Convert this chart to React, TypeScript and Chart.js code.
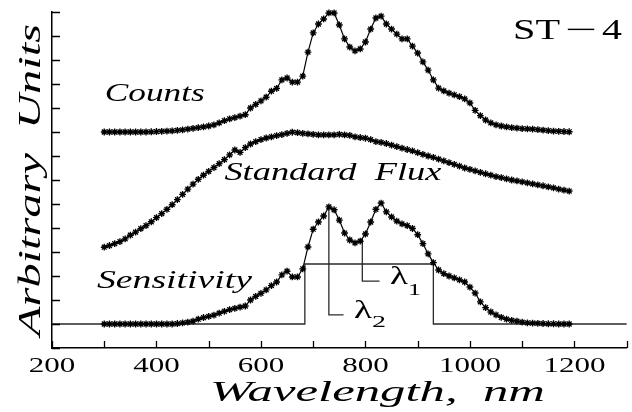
import React, { useEffect, useRef } from "react";
import { Chart, registerables } from "chart.js";
Chart.register(...registerables);

const wavelengths = [
  300, 310, 320, 330, 340, 350, 360, 370, 380, 390,
  400, 410, 420, 430, 440, 450, 460, 470, 480, 490,
  500, 510, 520, 530, 540, 550, 560, 570, 580, 590,
  600, 610, 620, 630, 640, 650, 660, 670, 680, 690,
  700, 710, 720, 730, 740, 750, 760, 770, 780, 790,
  800, 810, 820, 830, 840, 850, 860, 870, 880, 890,
  900, 910, 920, 930, 940, 950, 960, 970, 980, 990,
  1000, 1010, 1020, 1030, 1040, 1050, 1060, 1070, 1080, 1090,
  1100, 1110, 1120, 1130, 1140, 1150, 1160, 1170, 1180, 1190,
];

const counts = [
  9.0, 9.0, 9.0, 9.0, 9.0, 9.0, 9.0, 9.0, 9.0, 9.01,
  9.02, 9.03, 9.04, 9.05, 9.07, 9.09, 9.12, 9.15, 9.18, 9.21,
  9.25, 9.3, 9.38, 9.47, 9.55, 9.6, 9.66, 9.72, 10.0, 10.15,
  10.3, 10.45, 10.7, 10.82, 11.17, 11.25, 11.08, 11.08, 11.33, 12.33,
  13.13, 13.5, 13.71, 13.96, 13.96, 13.46, 12.88, 12.54, 12.38, 12.46,
  12.75, 13.29, 13.75, 13.83, 13.5, 13.29, 13.08, 12.88, 12.88, 12.58,
  12.29, 11.92, 11.58, 11.17, 10.83, 10.71, 10.62, 10.55, 10.47, 10.38,
  10.21, 9.9, 9.68, 9.5, 9.38, 9.3, 9.25, 9.21, 9.18, 9.16,
  9.14, 9.13, 9.12, 9.1, 9.08, 9.06, 9.04, 9.03, 9.02, 9.01,
];

const standardFlux = [
  4.2, 4.27, 4.35, 4.43, 4.55, 4.7, 4.83, 4.97, 5.1, 5.26,
  5.43, 5.6, 5.78, 5.97, 6.18, 6.4, 6.62, 6.83, 7.03, 7.2,
  7.36, 7.52, 7.68, 7.85, 8.05, 8.25, 8.15, 8.35, 8.5, 8.6,
  8.68, 8.75, 8.8, 8.85, 8.89, 8.94, 8.99, 8.97, 8.94, 8.92,
  8.9, 8.88, 8.88, 8.88, 8.88, 8.9, 8.88, 8.86, 8.8, 8.77,
  8.74, 8.68, 8.6, 8.57, 8.52, 8.45, 8.39, 8.33, 8.27, 8.21,
  8.14, 8.07, 8.0, 7.94, 7.87, 7.8, 7.72, 7.65, 7.58, 7.5,
  7.44, 7.38, 7.32, 7.26, 7.2, 7.14, 7.1, 7.05, 7.0, 6.96,
  6.92, 6.88, 6.84, 6.8, 6.76, 6.71, 6.67, 6.62, 6.58, 6.54,
];

const sensitivity = [
  1.0, 1.0, 1.0, 1.0, 1.0, 1.0, 1.0, 1.0, 1.0, 1.0,
  1.0, 1.0, 1.0, 1.0, 1.02, 1.05, 1.08, 1.12, 1.2, 1.27,
  1.32, 1.37, 1.45, 1.53, 1.6, 1.65, 1.7, 1.75, 2.0, 2.15,
  2.28, 2.42, 2.6, 2.75, 3.05, 3.2, 2.96, 2.96, 3.3, 4.21,
  4.95, 5.25, 5.5, 5.88, 5.76, 5.33, 4.79, 4.5, 4.38, 4.45,
  4.75, 5.25, 5.78, 6.04, 5.67, 5.46, 5.29, 5.17, 5.1, 4.98,
  4.72, 4.35, 3.92, 3.56, 3.25, 3.1, 3.0, 2.92, 2.84, 2.75,
  2.54, 2.29, 1.92, 1.68, 1.5, 1.38, 1.28, 1.2, 1.15, 1.12,
  1.08, 1.05, 1.04, 1.03, 1.02, 1.01, 1.01, 1.0, 1.0, 1.0,
];

// filter passband (step) and lambda markers
const filterX = [200, 684, 684, 930, 930, 1300];
const filterY = [1, 1, 3.5, 3.5, 1, 1];
const lambda2X = [730, 730, 758];
const lambda2Y = [5.88, 1.38, 1.38];
const lambda1X = [794, 794, 827];
const lambda1Y = [4.55, 2.79, 2.79];

const xTickValues = [200, 300, 400, 500, 600, 700, 800, 900, 1000, 1100, 1200, 1300];
const xTickLabels = ["200", "", "400", "", "600", "", "800", "", "1000", "", "1200", ""];
const yTickValues = [0, 1, 2, 3, 4, 5, 6, 7, 8, 9, 10, 11, 12, 13, 14];

const xTitle = "Wavelength,  nm";
const yTitle = "Arbitrary  Units";
const panelLabel = ["ST", "\u2212", "4"];
const curveLabels = ["Counts", "Standard  Flux", "Sensitivity"];

const pts = (xs: number[], ys: number[]) => xs.map((x, i) => ({ x, y: ys[i] }));

function fitText(ctx: CanvasRenderingContext2D, text: string, x: number, y: number, w: number, font: string) {
  ctx.save();
  ctx.font = font;
  ctx.textAlign = "left";
  ctx.textBaseline = "alphabetic";
  const m = ctx.measureText(text).width;
  ctx.translate(x, y);
  ctx.scale(w / m, 1);
  ctx.fillStyle = "#000";
  ctx.fillText(text, 0, 0);
  ctx.restore();
}

const decor = {
  id: "decor",
  afterDraw(chart: any) {
    const ctx: CanvasRenderingContext2D = chart.ctx;
    const { x, y } = chart.scales;
    const area = chart.chartArea;
    ctx.save();
    ctx.strokeStyle = "#000";
    ctx.lineWidth = 1.3;
    ctx.beginPath();
    for (const v of yTickValues) {
      const py = Math.round(y.getPixelForValue(v)) + 0.5;
      ctx.moveTo(area.left, py);
      ctx.lineTo(area.left + 8, py);
    }
    for (const v of xTickValues) {
      const px = Math.round(x.getPixelForValue(v)) + 0.5;
      ctx.moveTo(px, area.bottom);
      ctx.lineTo(px, area.bottom - 7);
    }
    ctx.stroke();

    // x tick labels
    xTickValues.forEach((v, i) => {
      const t = xTickLabels[i];
      if (!t) return;
      const w = t.length * 15.5;
      fitText(ctx, t, x.getPixelForValue(v) - w / 2, area.bottom + 24, w, "21px 'Liberation Serif'");
    });

    const ital = "italic 25px 'Liberation Serif'";
    fitText(ctx, curveLabels[0], x.getPixelForValue(301), y.getPixelForValue(10.29), 100, ital);
    fitText(ctx, curveLabels[1], x.getPixelForValue(530), y.getPixelForValue(7.0), 217, ital);
    fitText(ctx, curveLabels[2], x.getPixelForValue(286), y.getPixelForValue(2.5), 155, ital);

    // lambda labels
    const lx2 = x.getPixelForValue(778), ly2 = y.getPixelForValue(1.25);
    fitText(ctx, "\u03bb", lx2, ly2, 18, "25px 'Liberation Serif'");
    fitText(ctx, "2", lx2 + 18, ly2 + 9, 14, "17px 'Liberation Serif'");
    const lx1 = x.getPixelForValue(847), ly1 = y.getPixelForValue(2.67);
    fitText(ctx, "\u03bb", lx1, ly1, 18, "25px 'Liberation Serif'");
    fitText(ctx, "1", lx1 + 18, ly1 + 11, 13, "17px 'Liberation Serif'");

    // panel label
    fitText(ctx, panelLabel[0], 513, 39, 47, "29px 'Liberation Serif'");
    fitText(ctx, panelLabel[1], 565, 39, 32, "29px 'Liberation Serif'");
    fitText(ctx, panelLabel[2], 602, 39, 20, "29px 'Liberation Serif'");

    // axis titles
    fitText(ctx, xTitle, 210, 401, 335, "italic 30px 'Liberation Serif'");
    ctx.save();
    ctx.translate(40, 336);
    ctx.rotate(-Math.PI / 2);
    fitText(ctx, yTitle, 0, 0, 312, "italic 31px 'Liberation Serif'");
    ctx.restore();
    ctx.restore();
  },
};

export default function App() {
  const ref = useRef<HTMLCanvasElement | null>(null);
  useEffect(() => {
    if (!ref.current) return;
    const starSet = (data: number[], label: string) => ({
      label,
      data: pts(wavelengths, data),
      borderColor: "#000",
      borderWidth: 1.2,
      pointStyle: "star",
      pointRadius: 3.4,
      pointBorderWidth: 1.35,
      pointBorderColor: "#000",
      pointBackgroundColor: "#000",
      tension: 0,
      clip: false,
    });
    const plain = (xs: number[], ys: number[], label: string) => ({
      label,
      data: pts(xs, ys),
      borderColor: "#2a2a2a",
      borderWidth: 1.3,
      pointRadius: 0,
      tension: 0,
      clip: false,
    });
    const chart = new Chart(ref.current, {
      type: "line",
      data: {
        datasets: [
          starSet(counts, "Counts"),
          starSet(standardFlux, "Standard Flux"),
          starSet(sensitivity, "Sensitivity"),
          plain(filterX, filterY, "Filter"),
          plain(lambda2X, lambda2Y, "lambda2"),
          plain(lambda1X, lambda1Y, "lambda1"),
        ] as any,
      },
      options: {
        animation: false,
        responsive: false,
        devicePixelRatio: 1,
        layout: { padding: { top: 12, right: 3.5, left: 0, bottom: 0 } },
        plugins: { legend: { display: false }, tooltip: { enabled: false } },
        scales: {
          x: {
            type: "linear",
            min: 200,
            max: 1300,
            afterFit: (s: any) => {
              s.height = 64;
            },
            grid: { display: false },
            border: { display: true, color: "#000", width: 1.5 },
            ticks: { display: false, stepSize: 100 },
          },
          y: {
            type: "linear",
            min: 0,
            max: 14,
            afterFit: (s: any) => {
              s.width = 52;
            },
            grid: { display: false },
            border: { display: true, color: "#000", width: 1.5 },
            ticks: { display: false, stepSize: 1 },
          },
        },
      } as any,
      plugins: [decor as any],
    });
    return () => chart.destroy();
  }, []);
  return (
    <div style={{ position: "fixed", left: 0, top: 0, width: 632, height: 412, background: "#fff" }}>
      <canvas ref={ref} width={632} height={412} />
    </div>
  );
}
